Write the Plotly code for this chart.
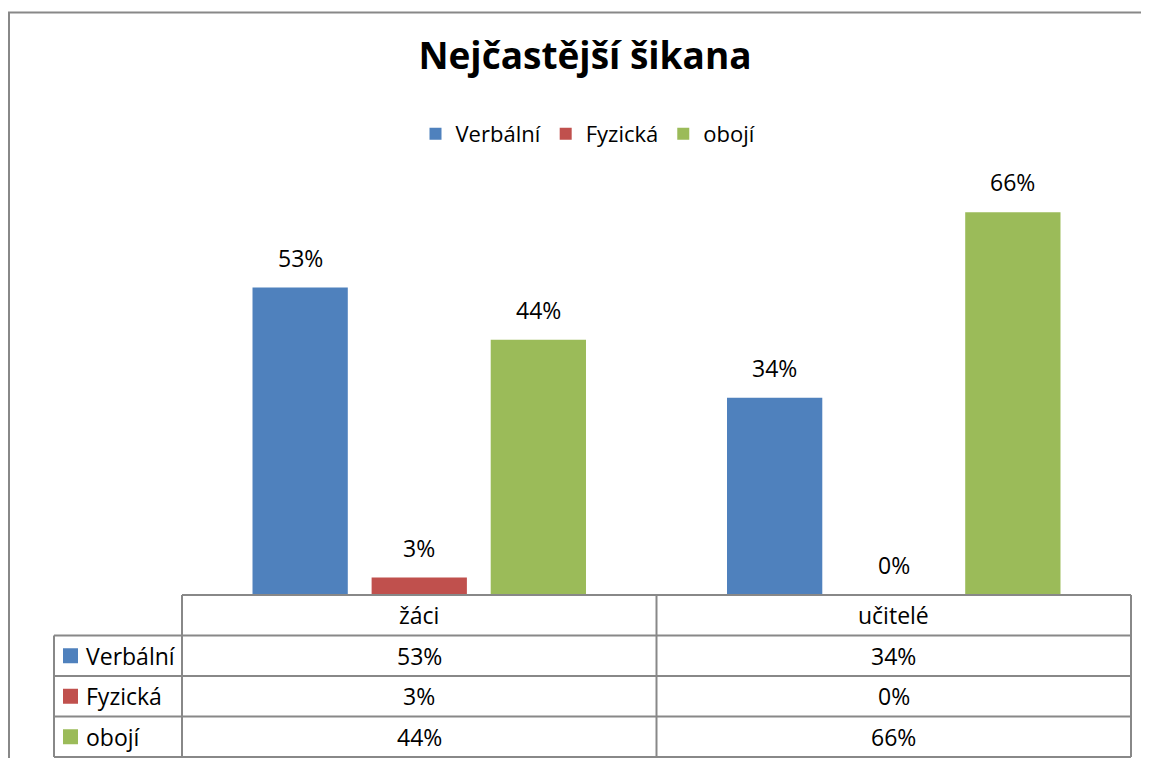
import plotly.graph_objects as go

# Data
kategorie = ["žáci", "učitelé"]
serie = ["Verbální", "Fyzická", "obojí"]
verbalni = [0.53, 0.34]
fyzicka = [0.03, 0.00]
oboji = [0.44, 0.66]
hodnoty = [verbalni, fyzicka, oboji]
barvy = ["#4F81BD", "#C0504D", "#9BBB59"]

# Rozmery (stranka ma 8px okraj v body, graf sa musi zmestit do okna)
OFF = 8
W, H = 1149 - 2 * OFF, 766 - 2 * OFF
L, T = 182 - OFF, 189 - OFF
R = W - (1131 - OFF)
B = H - (595 - OFF)
PW, PH = W - L - R, H - T - B
BARGAP, GROUPGAP = 0.247, 0.2
FONT = "Open Sans"
SEDA = "#888888"
FS = 23


def px_x(p):
    # pixel v obrazku -> paper x
    return (p - OFF - L) / PW


def px_y(p):
    # pixel v obrazku -> paper y
    return (H - B - (p - OFF)) / PH


row_h = 40.5 / PH
n_cat = len(kategorie)

fig = go.Figure()
for name, vals, c in zip(serie, hodnoty, barvy):
    fig.add_trace(go.Bar(x=kategorie, y=vals, name=name, marker=dict(color=c, line=dict(width=0))))

annotations = []
shapes = []

# popisky nad stlpcami
slot = (1 - BARGAP) / len(serie)
for i, vals in enumerate(hodnoty):
    for j, v in enumerate(vals):
        annotations.append(dict(
            x=j + (i - 1) * slot, y=v, xref="x", yref="y",
            text=f"{v:.0%}", showarrow=False, yanchor="bottom", yshift=12,
            font=dict(family=FONT, size=FS, color="black")))

# tabulka s datami
left_edge = px_x(54)
n_rows = len(serie) + 1
bottom = -row_h * n_rows
line = dict(color=SEDA, width=2)
shapes.append(dict(type="line", xref="paper", yref="paper", x0=0, x1=1, y0=0, y1=0, line=line))
for k in range(1, n_rows + 1):
    shapes.append(dict(type="line", xref="paper", yref="paper", x0=left_edge, x1=1,
                       y0=-row_h * k, y1=-row_h * k, line=line))
for k in range(n_cat + 1):
    shapes.append(dict(type="line", xref="paper", yref="paper", x0=k / n_cat, x1=k / n_cat,
                       y0=0, y1=bottom, line=line))
shapes.append(dict(type="line", xref="paper", yref="paper", x0=left_edge, x1=left_edge,
                   y0=-row_h, y1=bottom, line=line))

for j, kat in enumerate(kategorie):
    annotations.append(dict(x=j, y=-row_h / 2, xref="x", yref="paper", text=kat, showarrow=False,
                            yanchor="middle", font=dict(family=FONT, size=FS, color="black")))
for i, (name, vals, c) in enumerate(zip(serie, hodnoty, barvy)):
    yc = -row_h * (i + 1.5)
    sq = 15 / PH
    shapes.append(dict(type="rect", xref="paper", yref="paper", x0=px_x(63), x1=px_x(78),
                       y0=yc - sq / 2, y1=yc + sq / 2, fillcolor=c, line=dict(width=0)))
    annotations.append(dict(x=px_x(84), y=yc, xref="paper", yref="paper", text=name, showarrow=False,
                            xanchor="left", yanchor="middle", font=dict(family=FONT, size=FS, color="black")))
    for j, v in enumerate(vals):
        annotations.append(dict(x=j, y=yc, xref="x", yref="paper", text=f"{v:.0%}", showarrow=False,
                                yanchor="middle", font=dict(family=FONT, size=FS, color="black")))

# ramik grafu
shapes.append(dict(type="rect", xref="paper", yref="paper", x0=px_x(9), x1=px_x(1180),
                   y0=px_y(800), y1=px_y(12.5), line=dict(color=SEDA, width=2), layer="below"))

fig.update_layout(
    width=W, height=H,
    margin=dict(l=L, r=R, t=T, b=B),
    title=dict(text="<b>Nejčastější šikana</b>", x=(585 - OFF) / W, xanchor="center",
               y=1 - (56 - OFF) / H, yanchor="middle", yref="container",
               font=dict(family=FONT, size=37, color="black")),
    barmode="group", bargap=BARGAP, bargroupgap=GROUPGAP,
    legend=dict(orientation="h", x=px_x(588), xanchor="center", y=px_y(134), yanchor="middle",
                font=dict(family=FONT, size=22, color="black"), itemwidth=30, traceorder="normal"),
    plot_bgcolor="white", paper_bgcolor="white",
    annotations=annotations, shapes=shapes,
    showlegend=True,
)
fig.update_xaxes(showticklabels=False, showgrid=False, zeroline=False, showline=False, ticks="",
                 range=[-0.5, n_cat - 0.5])
fig.update_yaxes(visible=False, range=[0, 0.7])

fig.write_html("out.html")
